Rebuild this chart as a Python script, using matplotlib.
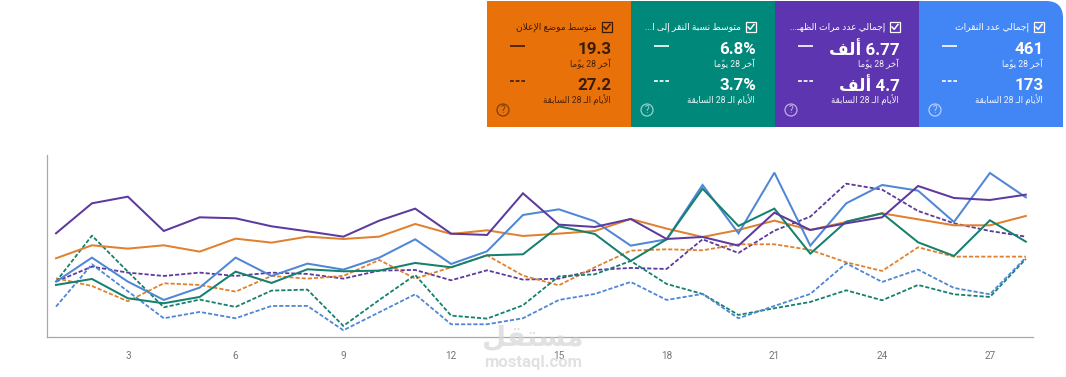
import matplotlib
matplotlib.use("Agg")
import matplotlib.pyplot as plt
from matplotlib.patches import Rectangle, Circle, PathPatch
from matplotlib.path import Path

days = list(range(1, 29))
tick_days = [3, 6, 9, 12, 15, 18, 21, 24, 27]

purple_now = [310,400,420,317,358,355,331,316,300,348,384,309,305,430,336,329,353,293,299,273,372,320,340,358,452,416,410,426]
orange_now = [235,274,264,274,255,294,282,300,293,300,338,308,319,302,309,317,353,324,299,320,348,320,344,370,352,334,334,362]
blue_now = [165,237,165,110,147,237,182,219,201,237,292,218,256,365,382,346,273,292,455,310,492,273,400,455,438,344,491,418]
green_now = [155,173,115,100,119,195,161,202,196,198,221,208,244,247,331,308,227,292,444,332,384,249,345,370,283,242,349,285]
purple_prev = [165,210,192,182,192,182,192,188,174,198,200,169,199,171,174,200,206,203,292,251,318,360,459,441,377,340,317,300]
orange_prev = [175,152,106,160,155,135,182,174,182,230,174,208,244,183,154,208,258,262,259,277,277,260,223,197,268,240,240,240]
green_prev = [165,303,195,88,111,89,138,141,32,110,185,63,54,94,181,187,227,158,128,65,85,104,139,109,155,127,119,233]
blue_prev = [90,217,136,55,74,55,92,92,19,73,127,37,37,55,110,128,164,110,128,55,92,128,220,164,201,146,127,237]

card_titles = ["متوسط موضع الإعلان", "متوسط نسبة النقر إلى ا...", "إجمالي عدد مرات الظهـ...", "إجمالي عدد النقرات"]
card_now = ["19.3", "6.8%", "6.77 ألف", "461"]
card_prev = ["27.2", "3.7%", "4.7 ألف", "173"]
label_now = "آخر 28 يومًا"
label_prev = "الأيام الـ 28 السابقة"
card_colors = ["#E8710A", "#00897B", "#5E35B1", "#4285F4"]
card_inks = ["#3A1C05", "#FFFFFF", "#FFFFFF", "#FFFFFF"]

C_BLUE, C_PURPLE, C_GREEN, C_ORANGE = "#4F86D6", "#5C3A9E", "#16806E", "#E0812F"

# minimal Arabic shaping (matplotlib does not shape): letter -> first presentation form, form count
FORMS = {"ء":(0xFE80,1),"آ":(0xFE81,2),"أ":(0xFE83,2),"إ":(0xFE87,2),"ا":(0xFE8D,2),"ب":(0xFE8F,4),"ة":(0xFE93,2),
         "ت":(0xFE95,4),"ج":(0xFE9D,4),"خ":(0xFEA5,4),"د":(0xFEA9,2),"ر":(0xFEAD,2),"س":(0xFEB1,4),"ض":(0xFEBD,4),
         "ط":(0xFEC1,4),"ظ":(0xFEC5,4),"ع":(0xFEC9,4),"ف":(0xFED1,4),"ق":(0xFED5,4),"ل":(0xFEDD,4),"م":(0xFEE1,4),
         "ن":(0xFEE5,4),"ه":(0xFEE9,4),"و":(0xFEED,2),"ى":(0xFEEF,2),"ي":(0xFEF1,4)}
LAM_ALEF = {"ا":0xFEFB,"أ":0xFEF7,"إ":0xFEF9,"آ":0xFEF5}
MARK = "\u064B"
KASHIDA = "\u0640"

def joins_next(ch):
    return ch == KASHIDA or (ch in FORMS and FORMS[ch][1] == 4)

def joins_prev(ch):
    return ch == KASHIDA or (ch in FORMS and FORMS[ch][1] >= 2)

def shape_word(word):
    clusters = []
    for ch in word:
        if ch == MARK and clusters:
            clusters[-1][1] += ch
        else:
            clusters.append([ch, ""])
    out = []
    i = 0
    while i < len(clusters):
        ch, mk = clusters[i]
        prev = clusters[i - 1][0] if i else ""
        nxt = clusters[i + 1][0] if i + 1 < len(clusters) else ""
        p = joins_next(prev) if prev else False
        if ch == "ل" and nxt in LAM_ALEF:
            out.append(chr(LAM_ALEF[nxt] + (1 if p else 0)) + mk)
            i += 2
            continue
        n = joins_prev(nxt) if nxt else False
        if ch in FORMS:
            base, count = FORMS[ch]
            if count == 4:
                form = 3 if (p and n) else 1 if p else 2 if n else 0
            elif count == 2:
                form = 1 if p else 0
            else:
                form = 0
            out.append(chr(base + form) + mk)
        else:
            out.append(ch + mk)
        i += 1
    return "".join(reversed(out))

def ar(text):
    words = []
    for w in text.split(" "):
        words.append(w if w[0].isdigit() and w[-1] in "0123456789%" else shape_word(w))
    return " ".join(reversed(words))

FONT = ["Roboto", "DejaVu Sans"]
W, H = 1066, 377
fig = plt.figure(figsize=(W / 100, H / 100), dpi=100, facecolor="white")

ax = fig.add_axes([46.5 / W, 1 - 336.6 / H, (1033 - 46.5) / W, (336.6 - 155) / H])
ax.set_xlim(0.735, 28.2)
ax.set_ylim(0, 545)
for s in ("top", "right"):
    ax.spines[s].set_visible(False)
for s in ("left", "bottom"):
    ax.spines[s].set_color("#A8A8A8")
    ax.spines[s].set_linewidth(0.9)
ax.set_yticks([])
ax.set_xticks(tick_days)
ax.set_xticklabels([str(d) for d in tick_days], family=FONT, fontsize=7.2, color="#757575")
ax.tick_params(axis="x", length=0, pad=10.5)

dash = (0, (2.3, 1.1))
for vals, c in [(purple_prev, C_PURPLE), (orange_prev, C_ORANGE), (green_prev, C_GREEN), (blue_prev, C_BLUE)]:
    ax.plot(days, vals, color=c, lw=1.3, ls=dash, zorder=2)
for vals, c in [(orange_now, C_ORANGE), (blue_now, C_BLUE), (green_now, C_GREEN), (purple_now, C_PURPLE)]:
    ax.plot(days, vals, color=c, lw=1.45, zorder=3, solid_joinstyle="miter")

ov = fig.add_axes([0, 0, 1, 1], zorder=5)
ov.set_xlim(0, W)
ov.set_ylim(H, 0)
ov.axis("off")
ov.patch.set_alpha(0)

CARD_W, CARD_X0, CARD_TOP, CARD_BOT = 144, 487, 1, 127
for i, (title, now, prev, col, ink) in enumerate(zip(card_titles, card_now, card_prev, card_colors, card_inks)):
    x0 = CARD_X0 + i * CARD_W
    x1 = x0 + CARD_W
    if i == 3:
        r = 17
        verts = [(x0, CARD_TOP), (x1 - r, CARD_TOP), (x1, CARD_TOP), (x1, CARD_TOP + r), (x1, CARD_BOT), (x0, CARD_BOT), (x0, CARD_TOP)]
        codes = [Path.MOVETO, Path.LINETO, Path.CURVE3, Path.CURVE3, Path.LINETO, Path.LINETO, Path.CLOSEPOLY]
        ov.add_patch(PathPatch(Path(verts, codes), fc=col, ec="none"))
    else:
        ov.add_patch(Rectangle((x0, CARD_TOP), CARD_W, CARD_BOT - CARD_TOP, fc=col, ec="none"))
    # checkbox
    bx, by = x0 + 115, 22
    ov.add_patch(Rectangle((bx, by), 9.5, 9.5, fc="none", ec=ink, lw=0.9))
    ov.plot([bx + 2, bx + 4.2, bx + 8], [by + 5, by + 7.3, by + 2.4], color=ink, lw=1.1)
    ov.text(x0 + 110, 27, ar(title), ha="right", va="center", fontsize=6.6, color=ink, family=FONT)
    # values
    right = x0 + 125
    ov.text(right, 49.5, ar(now), ha="right", va="center", fontsize=12.2, fontweight="bold", color=ink, family=FONT)
    ov.text(right - 1, 64, ar(label_now), ha="right", va="center", fontsize=6.2, color=ink, family=FONT, alpha=0.92)
    ov.text(right, 85.5, ar(prev), ha="right", va="center", fontsize=12.2, fontweight="bold", color=ink, family=FONT)
    ov.text(right - 1, 100, ar(label_prev), ha="right", va="center", fontsize=6.2, color=ink, family=FONT, alpha=0.92)
    # legend samples
    ov.plot([x0 + 23, x0 + 38], [46, 46], color=ink, lw=1.2, solid_capstyle="butt")
    ov.plot([x0 + 23, x0 + 38], [81, 81], color=ink, lw=1.2, ls=(0, (2.3, 1.1)))
    # help icon
    ov.add_patch(Circle((x0 + 16, 110), 6, fc="none", ec=ink, lw=0.9, alpha=0.6))
    ov.text(x0 + 16, 110.3, "?", ha="center", va="center", fontsize=7, color=ink, alpha=0.65, family=FONT)

# watermark
ov.text(533, 338, ar("مستقل"), ha="center", va="center", fontsize=20, fontweight="bold", color="#D8D8D8", alpha=0.75, family=FONT)
ov.text(533, 363, "mostaql.com", ha="center", va="center", fontsize=12, fontweight="bold", color="#D8D8D8", alpha=0.75, family=FONT)

fig.savefig("out.png", dpi=100, facecolor="white")
